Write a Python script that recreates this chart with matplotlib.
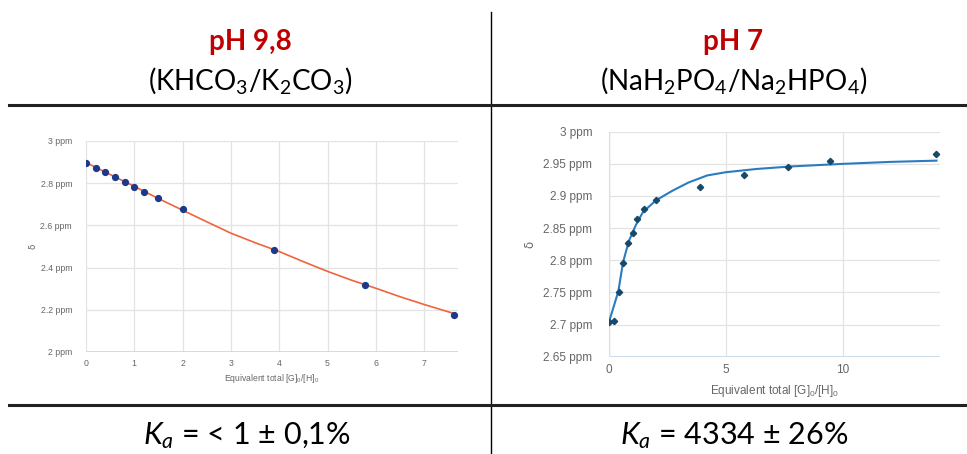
import matplotlib
matplotlib.use('Agg')
import matplotlib.pyplot as plt
from matplotlib.lines import Line2D

# pH 9,8 titration (KHCO3/K2CO3)
eq_left = [0, 0.2, 0.4, 0.6, 0.8, 1.0, 1.2, 1.5, 2.0, 3.9, 5.77, 7.62]
shift_left = [2.897, 2.873, 2.852, 2.828, 2.806, 2.782, 2.760, 2.728, 2.676, 2.483, 2.318, 2.175]
fit_x_left = [0, 0.5, 1, 1.5, 2, 2.5, 3, 3.5, 4, 4.5, 5, 5.5, 6, 6.5, 7, 7.65]
fit_y_left = [2.898, 2.841, 2.785, 2.727, 2.672, 2.617, 2.563, 2.518, 2.476, 2.428,
              2.382, 2.340, 2.302, 2.262, 2.225, 2.180]

# pH 7 titration (NaH2PO4/Na2HPO4)
eq_right = [0, 0.2, 0.43, 0.58, 0.8, 1.03, 1.18, 1.5, 2.0, 3.9, 5.78, 7.64, 9.43, 13.97]
shift_right = [2.7045, 2.7055, 2.750, 2.796, 2.827, 2.843, 2.864, 2.879, 2.893,
               2.914, 2.932, 2.945, 2.954, 2.966]
fit_x_right = [0, 0.2, 0.4, 0.6, 0.85, 1.15, 1.45, 2.0, 2.7, 3.4, 4.2, 5.0, 6.3,
               7.8, 10, 12, 14]
fit_y_right = [2.704, 2.728, 2.752, 2.797, 2.830, 2.855, 2.875, 2.893, 2.908, 2.921,
               2.932, 2.937, 2.942, 2.946, 2.950, 2.953, 2.955]

ticks_left = [2, 2.2, 2.4, 2.6, 2.8, 3]
ticks_right = [2.65, 2.7, 2.75, 2.8, 2.85, 2.9, 2.95, 3]

plt.rcParams['mathtext.fontset'] = 'custom'
plt.rcParams['mathtext.rm'] = 'Lato'
plt.rcParams['mathtext.it'] = 'Lato:italic'
plt.rcParams['mathtext.bf'] = 'Lato:bold'

fig = plt.figure(figsize=(9.67, 4.54), dpi=100)

XLABEL = r'Equivalent total [G]$\mathregular{_0}$/[H]$\mathregular{_0}$'


def style_axes(ax, fs, tick_col='#666666'):
    for s in ax.spines.values():
        s.set_visible(False)
    ax.grid(True, color='#e3e3e3', linewidth=0.9)
    ax.set_axisbelow(True)
    ax.tick_params(length=0, labelsize=fs, colors=tick_col, pad=3)
    for lab in ax.get_xticklabels() + ax.get_yticklabels():
        lab.set_family('Liberation Sans')


# left chart
ax1 = fig.add_axes([0.0889, 0.2247, 0.3847, 0.4648])
ax1.plot(fit_x_left, fit_y_left, color='#f0643c', lw=1.2, zorder=2)
ax1.plot(eq_left, shift_left, 'o', color='#1d3a8a', ms=4.2, zorder=3)
ax1.set_xlim(0, 7.7)
ax1.set_ylim(2, 3)
ax1.set_yticks(ticks_left)
ax1.set_yticklabels(['2 ppm', '2.2 ppm', '2.4 ppm', '2.6 ppm', '2.8 ppm', '3 ppm'])
ax1.set_xticks(range(8))
ax1.axhline(2, color='#c6d7ea', lw=1.2, zorder=1)
style_axes(ax1, 6.3)
ax1.tick_params(axis='y', pad=10)
ax1.tick_params(axis='x', pad=5)
ax1.set_xlabel(XLABEL, fontsize=6.2, color='#666666', family='Liberation Sans', labelpad=3)
ax1.set_ylabel('δ', fontsize=6.3, color='#666666', labelpad=2)

# right chart
ax2 = fig.add_axes([0.6298, 0.2143, 0.3423, 0.4956])
ax2.plot(fit_x_right, fit_y_right, color='#2a7cc0', lw=1.5, zorder=2)
ax2.plot(eq_right, shift_right, 'D', color='#17496b', ms=3.2, zorder=3)
ax2.set_xlim(0, 14.15)
ax2.set_ylim(2.65, 3)
ax2.set_yticks(ticks_right)
ax2.set_yticklabels(['2.65 ppm', '2.7 ppm', '2.75 ppm', '2.8 ppm', '2.85 ppm',
                     '2.9 ppm', '2.95 ppm', '3 ppm'])
ax2.set_xticks([0, 5, 10])
ax2.axhline(2.65, color='#c6d7ea', lw=1.2, zorder=1)
ax2.axvline(0, color='#d3dfec', lw=1.0, zorder=1)
style_axes(ax2, 8.5)
ax2.tick_params(axis='y', pad=12)
ax2.tick_params(axis='x', pad=5)
ax2.set_xlabel(XLABEL, fontsize=8.5, color='#666666', family='Liberation Sans', labelpad=5)
ax2.set_ylabel('δ', fontsize=8.5, color='#666666', labelpad=5)

# table frame
fig.add_artist(Line2D([491 / 967, 491 / 967], [0, 1 - 12 / 454], color='black', lw=1.0))
for yy in [105, 405]:
    fig.add_artist(Line2D([9 / 967, 1], [1 - yy / 454] * 2, color='#222222', lw=2.2))

# headers
red = '#c00000'
fig.text(250 / 967, 1 - 42 / 454, 'pH 9,8', ha='center', va='center', fontsize=20,
         color=red, weight='bold', family='Lato')
fig.text(733 / 967, 1 - 42 / 454, 'pH 7', ha='center', va='center', fontsize=20,
         color=red, weight='bold', family='Lato')
fig.text(250 / 967, 1 - 80 / 454, r'$\mathregular{(KHCO_3/K_2CO_3)}$', ha='center',
         va='center', fontsize=20, family='Lato')
fig.text(734 / 967, 1 - 80 / 454, r'$\mathregular{(NaH_2PO_4/Na_2HPO_4)}$', ha='center',
         va='center', fontsize=20, family='Lato')

# footers
fig.text(247 / 967, 1 - 436 / 454, r'$K_a$ = < 1 ± 0,1%', ha='center', va='center',
         fontsize=22, family='Lato')
fig.text(734 / 967, 1 - 436 / 454, r'$K_a$ = 4334 ± 26%', ha='center', va='center',
         fontsize=22, family='Lato')

fig.savefig('out.png', dpi=100)
